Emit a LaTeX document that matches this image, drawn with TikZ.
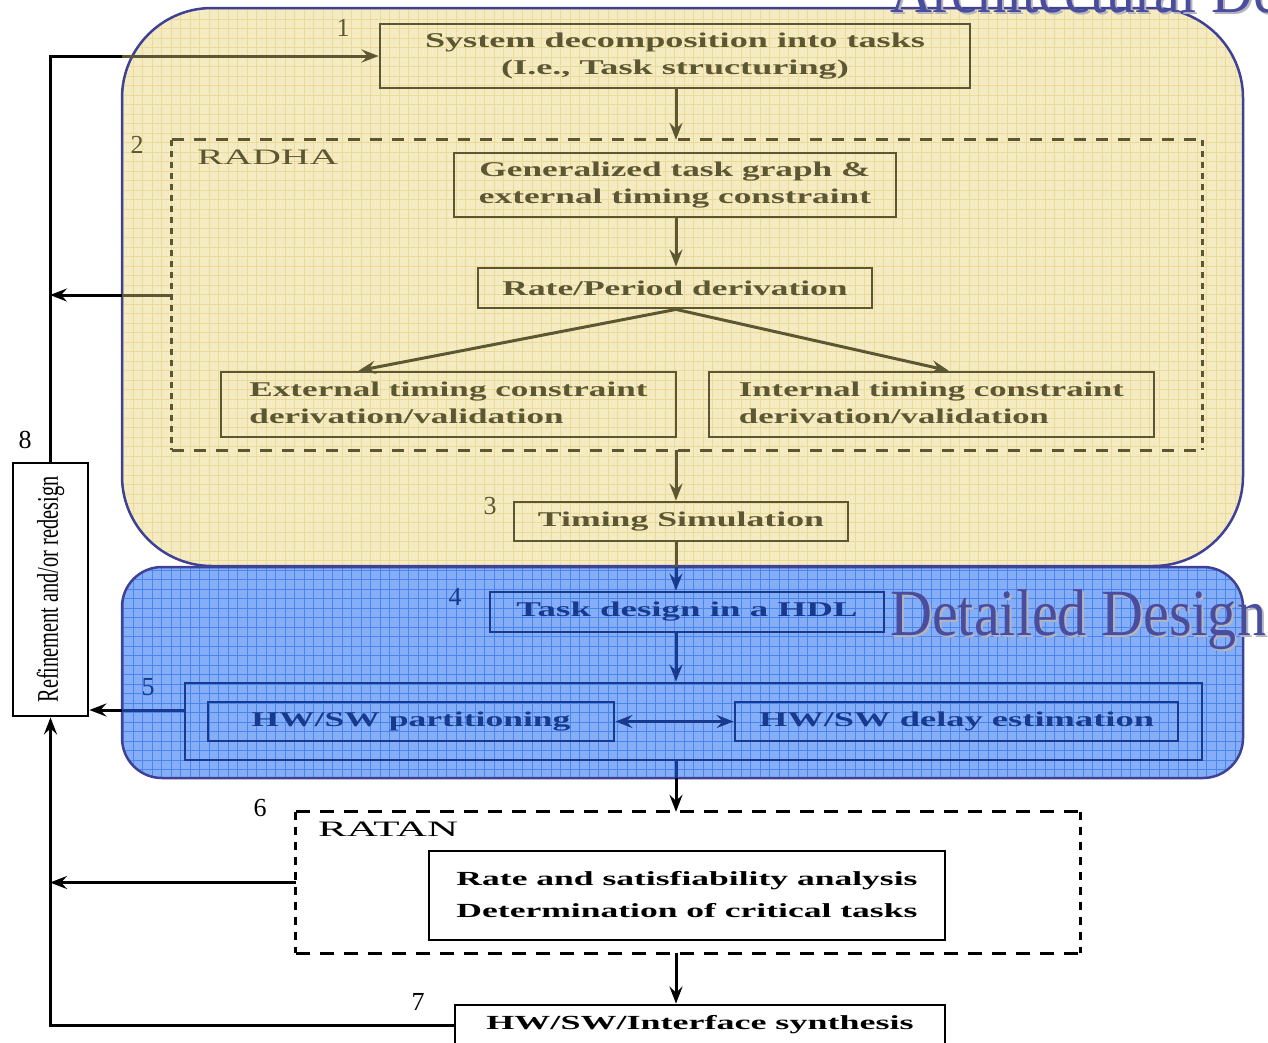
\documentclass[tikz,border=0pt]{standalone}
\usepackage{fontspec}
\setmainfont{Liberation Serif}
\usepackage{graphicx}
\usetikzlibrary{arrows.meta}

\definecolor{sandfill}{HTML}{F4EBC3}
\definecolor{sandgrid}{HTML}{ECDB98}
\definecolor{skyfill}{HTML}{86AEF6}
\definecolor{skygrid}{HTML}{4A86F0}
\definecolor{rim}{HTML}{3E4196}
\definecolor{olive}{HTML}{5C5732}
\definecolor{navy}{HTML}{183A8E}
\definecolor{titleink}{HTML}{4A4C9E}
\definecolor{titleshade}{HTML}{B4B4BE}

% stretch a text horizontally to a given width
\newcommand\fitto[2]{\resizebox{#1}{\height}{#2}}
\newcommand\titlefont{\fontsize{66}{66}\selectfont}
\newcommand\boxfont{\fontsize{21}{27}\selectfont\bfseries}

\begin{document}
\begin{tikzpicture}[x=1pt,y=-1pt,
  tip/.style={-{Stealth[length=17pt,width=13pt,inset=6pt]}},
  twotip/.style={{Stealth[length=17pt,width=13pt,inset=6pt]}-{Stealth[length=17pt,width=13pt,inset=6pt]}},
  conn/.style={line width=3pt},
  box/.style={draw,line width=2.8pt,inner sep=0pt,align=center},
  num/.style={font=\fontsize{26}{26}\selectfont,inner sep=0pt},
  tag/.style={font=\fontsize{22}{22}\selectfont,inner sep=0pt,anchor=north west},
  region/.style={draw=rim,line width=2.5pt},
  hdash/.style={line width=2.8pt,dash pattern=on 12pt off 10pt},
  vdash/.style={line width=2.8pt,dash pattern=on 6pt off 5pt},
  ]
\useasboundingbox (0,0) rectangle (1268,1042);
\clip (0,0) rectangle (1268,1042);

% ---------- shaded phases ----------
\path[fill=sandfill,rounded corners=90pt] (122,8) rectangle (1243,566);
\begin{scope}
  \clip[rounded corners=90pt] (122,8) rectangle (1243,566);
  \draw[sandgrid,line width=0.8pt,step=9.5pt] (100,0) grid (1260,580);
\end{scope}
\path[fill=skyfill,rounded corners=40pt] (122,567) rectangle (1243,778);
\begin{scope}
  \clip[rounded corners=40pt] (122,567) rectangle (1243,778);
  \draw[skygrid,line width=0.9pt,step=9.5pt] (100,560) grid (1260,790);
\end{scope}
\draw[region,rounded corners=90pt] (122,8) rectangle (1243,566);
\draw[region,rounded corners=40pt] (122,567) rectangle (1243,778);

% ---------- phase titles ----------
\node[anchor=base west,inner sep=0pt,text=titleshade] (archshade) at (892,14) {\titlefont\scalebox{0.88}[1]{Architectural Design}};
\node[anchor=base west,inner sep=0pt,text=titleink] (archtitle) at (890,12) {\titlefont\scalebox{0.88}[1]{Architectural Design}};
\node[anchor=base west,inner sep=0pt,text=titleshade] (detshade) at (892,637) {\titlefont\scalebox{0.88}[1]{Detailed Design}};
\node[anchor=base west,inner sep=0pt,text=titleink] (dettitle) at (890,635) {\titlefont\scalebox{0.88}[1]{Detailed Design}};

% ---------- architectural design steps ----------
\begin{scope}[draw=olive,text=olive]
  \node[box,minimum width=590pt,minimum height=64pt] (decomp) at (675,56)
    {\fitto{500pt}{\boxfont\begin{tabular}{@{}c@{}}System decomposition into tasks\\(I.e., Task structuring)\end{tabular}}};
  \node[num] (n1) at (343,28) {1};

  \node[inner sep=0pt,minimum width=1030pt,minimum height=310pt] (radha) at (687,295) {};
  \node[num] (n2) at (137,145) {2};
  \node[tag] (radhatag) at (197,150) {\fitto{141pt}{RADHA}};

  \node[box,minimum width=442pt,minimum height=64pt] (gen) at (675,185)
    {\fitto{392pt}{\boxfont\begin{tabular}{@{}c@{}}Generalized task graph \&\\external timing constraint\end{tabular}}};
  \node[box,minimum width=394pt,minimum height=40pt] (rate) at (675,288)
    {\fitto{345pt}{\boxfont Rate/Period derivation}};
  \node[box,minimum width=455pt,minimum height=65pt] (ext) at (448.5,404.5)
    {\fitto{398pt}{\boxfont\begin{tabular}{@{}l@{}}External timing constraint\\derivation/validation\end{tabular}}};
  \node[box,minimum width=445pt,minimum height=65pt] (int) at (931.5,404.5)
    {\fitto{385pt}{\boxfont\begin{tabular}{@{}l@{}}Internal timing constraint\\derivation/validation\end{tabular}}};

  \node[box,minimum width=334pt,minimum height=39pt] (timing) at (681,521.5)
    {\fitto{286pt}{\boxfont Timing Simulation}};
  \node[num] (n3) at (490,506) {3};
\end{scope}

% RADHA frame
\draw[olive,hdash] (radha.north west) -- (radha.north east) (radha.south west) -- (radha.south east);
\draw[olive,vdash] (radha.north west) -- (radha.south west) (radha.north east) -- (radha.south east);

% ---------- detailed design steps ----------
\begin{scope}[draw=navy,text=navy]
  \node[box,minimum width=394pt,minimum height=40pt] (task) at (687,612)
    {\fitto{341pt}{\boxfont Task design in a HDL}};
  \node[num] (n4) at (455,597) {4};
  \node[box,minimum width=1017pt,minimum height=77pt] (hwsw) at (693.5,721.5) {};
  \node[num] (n5) at (148,687) {5};
  \node[box,minimum width=406pt,minimum height=39pt] (part) at (411,721.5)
    {\fitto{319pt}{\boxfont HW/SW partitioning}};
  \node[box,minimum width=443pt,minimum height=39pt] (delay) at (956.5,721.5)
    {\fitto{395pt}{\boxfont HW/SW delay estimation}};
\end{scope}

% ---------- analysis and synthesis ----------
\node[inner sep=0pt,minimum width=784pt,minimum height=141pt] (ratan) at (688,882.5) {};
\draw[hdash,dash pattern=on 14pt off 10pt] (ratan.north west) -- (ratan.north east) (ratan.south west) -- (ratan.south east);
\draw[vdash,dash pattern=on 8pt off 7pt] (ratan.north west) -- (ratan.south west) (ratan.north east) -- (ratan.south east);
\node[num] (n6) at (260,808) {6};
\node[tag] (ratantag) at (318,822) {\fitto{140pt}{RATAN}};
\node[box,minimum width=516pt,minimum height=89pt] (analysis) at (687,895.5)
  {\fitto{461pt}{\fontsize{20}{32}\selectfont\bfseries\begin{tabular}{@{}l@{}}Rate and satisfiability analysis\\Determination of critical tasks\end{tabular}}};
\node[box,minimum width=490pt,minimum height=40pt] (synth) at (700,1025)
  {\fitto{427pt}{\fontsize{20}{20}\selectfont\bfseries HW/SW/Interface synthesis}};
\node[num] (n7) at (418,1002) {7};

\node[box,minimum width=75pt,minimum height=253pt] (refine) at (50.5,589.5)
  {\rotatebox{90}{\fitto{226pt}{\fontsize{30}{30}\selectfont Refinement and/or redesign}}};
\node[num] (n8) at (25,440) {8};

% ---------- connectors ----------
\coordinate (col) at (676,0);
\coordinate (spine) at (50,0);
\coordinate (sandedge) at (122,0);
\coordinate (seam) at (676,566.5);
\coordinate (floor) at (676,778);

% top loop back into step 1
\draw[conn] (refine.north) |- (sandedge |- decomp.west);
\draw[conn,olive,tip] (sandedge |- decomp.west) -- (decomp.west);

% vertical flow in the architectural phase
\draw[conn,olive,tip] (col |- decomp.south) -- (col |- radha.north);
\draw[conn,olive,tip] (col |- gen.south) -- (col |- rate.north);
\draw[conn,olive,tip] (col |- rate.south) -- ([xshift=139pt]ext.north west);
\draw[conn,olive,tip] (col |- rate.south) -- ([xshift=241pt]int.north west);
\draw[conn,olive,tip] (col |- radha.south) -- (col |- timing.north);
\draw[conn,olive] (col |- timing.south) -- (seam);

% RADHA feedback
\draw[conn,olive] (radha.west) -- (sandedge |- radha.west);
\draw[conn,tip] (sandedge |- radha.west) -- (spine |- radha.west);

% detailed design flow
\draw[conn,navy,tip] (seam) -- (col |- task.north);
\draw[conn,navy,tip] (col |- task.south) -- (col |- hwsw.north);
\draw[conn,navy,twotip] (part.east) -- (delay.west);
\coordinate (fivefeed) at (185,710);
\draw[conn,navy] (fivefeed) -- (sandedge |- fivefeed);
\draw[conn,tip] (sandedge |- fivefeed) -- (refine.east |- fivefeed);
\draw[conn,navy] (col |- hwsw.south) -- (floor);
\draw[conn,tip] (floor) -- (col |- ratan.north);

% RATAN feedback and synthesis
\draw[conn,tip] (ratan.west) -- (spine |- ratan.west);
\draw[conn,tip] (col |- ratan.south) -- (col |- synth.north);
\draw[conn,tip] (synth.west) -| (refine.south);
\end{tikzpicture}
\end{document}
